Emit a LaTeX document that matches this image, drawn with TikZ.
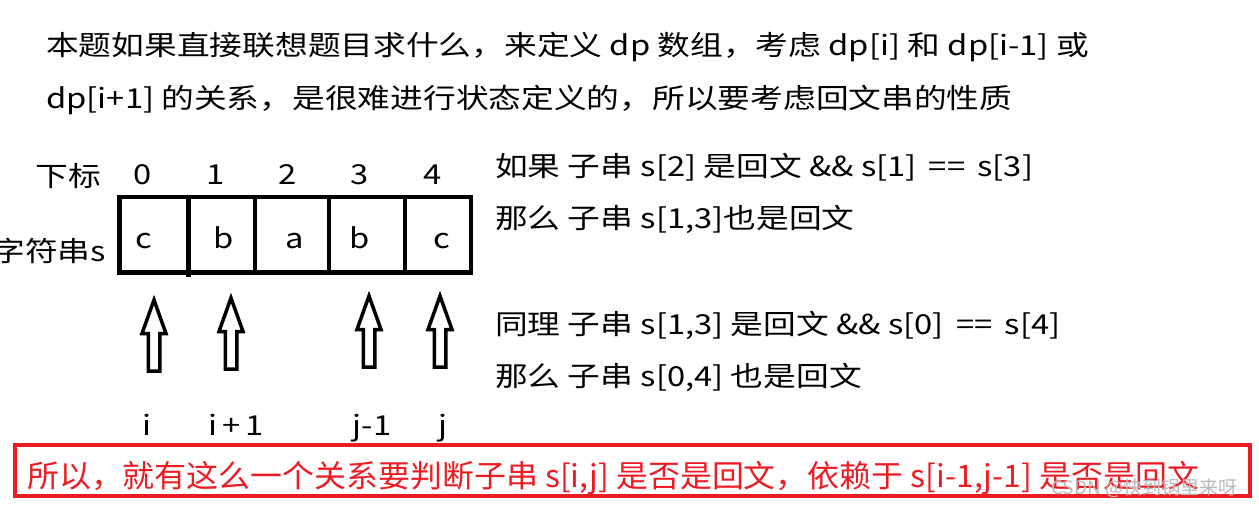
\documentclass[tikz,border=0pt]{standalone}
\usepackage{fontspec}
\newfontfamily\cjkmain{Noto Sans CJK SC}[FakeStretch=1.19]
\newfontfamily\cjkred{Noto Sans CJK SC}[FakeStretch=1.03]
\definecolor{myred}{RGB}{237,28,36}
\definecolor{wmgray}{RGB}{185,185,185}
\newcommand{\eqsp}{\hspace{5pt}}
\begin{document}
\begin{tikzpicture}[x=1pt,y=-1pt,
  txt/.style={inner sep=0pt, anchor=base west, font=\cjkmain\fontsize{27.5}{30}\selectfont},
  ctxt/.style={inner sep=0pt, anchor=base, font=\cjkmain\fontsize{27.5}{30}\selectfont},
  rtxt/.style={inner sep=0pt, anchor=base east, font=\cjkmain\fontsize{27.5}{30}\selectfont},
  redtxt/.style={inner sep=0pt, anchor=base west, text=myred, font=\cjkred\fontsize{31}{34}\selectfont},
  wmtxt/.style={inner sep=0pt, anchor=base west, text=wmgray, font=\cjkred\fontsize{18.5}{20}\selectfont},
  cellline/.style={line width=4.5pt},
  uparr/.pic={\draw[line width=3.5pt, fill=white, line join=miter]
     (0,0) -- (-12,33.5) -- (-5.75,33.5) -- (-5.75,71) -- (5.75,71) -- (5.75,33.5) -- (12,33.5) -- cycle;}
]
\useasboundingbox (0,0) rectangle (1259,508);

% heading
\node[txt] (l1) at (46,56) {本题如果直接联想题目求什么，来定义 dp 数组，考虑 dp[i] 和 dp[i-1] 或};
\node[txt] (l2) at (46,109) {dp[i+1] 的关系，是很难进行状态定义的，所以要考虑回文串的性质};

% index row
\node[ctxt] (xb) at (68,186) {下标};
\foreach \x/\n [count=\k from 0] in {143/0,216/1,288/2,360/3,433/4}
  \node[ctxt] (idx\k) at (\x,185) {\n};

% string cells
\draw[cellline] (119.5,197) rectangle (471,272.5);
\foreach \x in {255,329,405} \draw[cellline] (\x,197) -- (\x,272.5);
\draw[cellline] (188.5,197) -- (188.5,277);
\node[rtxt] (zfc) at (106,261) {字符串s};
\foreach \x/\c [count=\k from 0] in {143.5/c,224/b,295/a,360/b,442/c}
  \node[ctxt] (ch\k) at (\x,248) {\c};

% arrows
\pic at (154,300) {uparr};
\pic at (231,298) {uparr};
\pic at (369,296) {uparr};
\pic at (440,296) {uparr};

% labels under arrows
\node[ctxt] (li) at (147,435) {i};
\node[ctxt] (li1) at (236,435) {i\,+\,1};
\node[ctxt] (lj1) at (372,435) {j-1};
\node[ctxt] (lj) at (443,435) {j};

% right explanation
\node[txt] (r1) at (495,176) {如果 子串 s[2] 是回文 \&\& s[1] \eqsp== \eqsp s[3]};
\node[txt] (r2) at (495,228) {那么 子串 s[1,3]也是回文};
\node[txt] (r3) at (495,334) {同理 子串 s[1,3] 是回文 \&\& s[0] \eqsp== \eqsp s[4]};
\node[txt] (r4) at (495,386) {那么 子串 s[0,4] 也是回文};

% red conclusion
\draw[myred, line width=4pt] (15,445) rectangle (1250,496);
\node[redtxt] (red) at (27,487) {所以，就有这么一个关系要判断子串 s[i,j] 是否是回文，依赖于 s[i-1,j-1] 是否是回文};
\node[wmtxt] (wm) at (1051,494) {CSDN @快到锅里来呀};
\end{tikzpicture}
\end{document}
